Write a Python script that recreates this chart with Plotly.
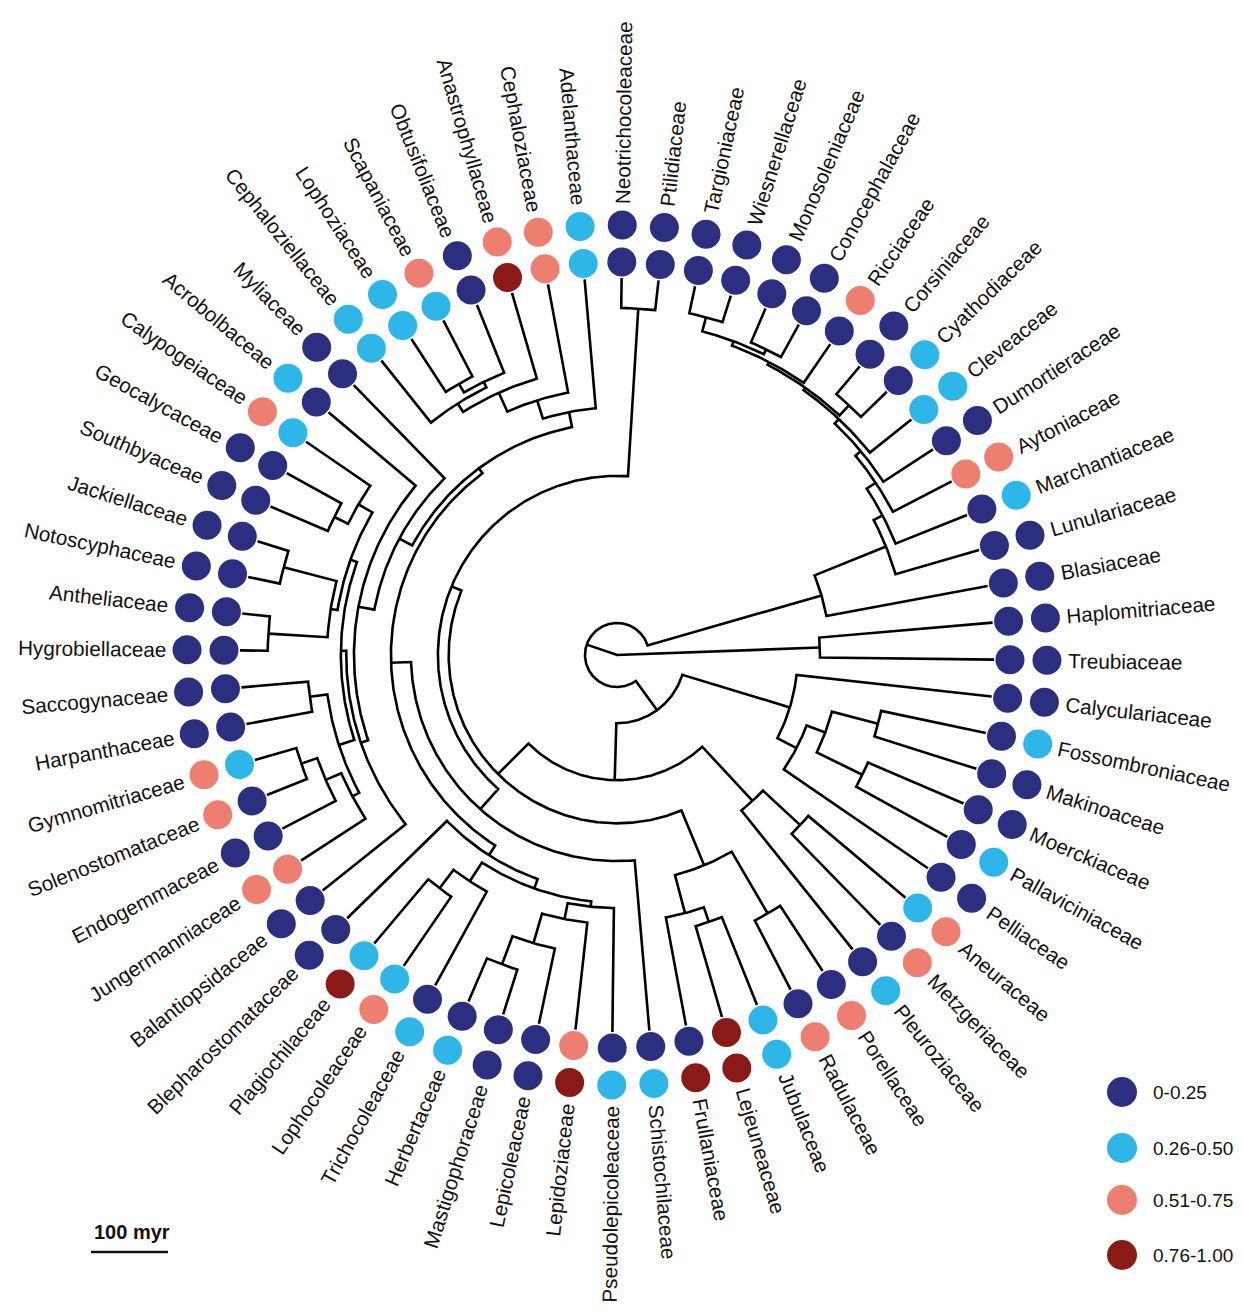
import math
import plotly.graph_objects as go

# ---------------------------------------------------------------------------
# Liverwort families, listed counter-clockwise starting at three o'clock
# ---------------------------------------------------------------------------
families = [
    "Treubiaceae", "Haplomitriaceae", "Blasiaceae", "Lunulariaceae", "Marchantiaceae",
    "Aytoniaceae", "Dumortieraceae", "Cleveaceae", "Cyathodiaceae", "Corsiniaceae",
    "Ricciaceae", "Conocephalaceae", "Monosoleniaceae", "Wiesnerellaceae", "Targioniaceae",
    "Ptilidiaceae", "Neotrichocoleaceae", "Adelanthaceae", "Cephaloziaceae", "Anastrophyllaceae",
    "Obtusifoliaceae", "Scapaniaceae", "Lophoziaceae", "Cephaloziellaceae", "Myliaceae",
    "Acrobolbaceae", "Calypogeiaceae", "Geocalycaceae", "Southbyaceae", "Jackiellaceae",
    "Notoscyphaceae", "Antheliaceae", "Hygrobiellaceae", "Saccogynaceae", "Harpanthaceae",
    "Gymnomitriaceae", "Solenostomataceae", "Endogemmaceae", "Jungermanniaceae", "Balantiopsidaceae",
    "Blepharostomataceae", "Plagiochilaceae", "Lophocoleaceae", "Trichocoleaceae", "Herbertaceae",
    "Mastigophoraceae", "Lepicoleaceae", "Lepidoziaceae", "Pseudolepicoleaceae", "Schistochilaceae",
    "Frullaniaceae", "Lejeuneaceae", "Jubulaceae", "Radulaceae", "Porellaceae",
    "Pleuroziaceae", "Metzgeriaceae", "Aneuraceae", "Pelliaceae", "Pallaviciniaceae",
    "Moerckiaceae", "Makinoaceae", "Fossombroniaceae", "Calyculariaceae",
]

# probability class per family (0: 0-0.25, 1: 0.26-0.50, 2: 0.51-0.75, 3: 0.76-1.00)
inner_class = [
    0, 0, 0, 0, 0, 2, 0, 1, 0, 0, 0, 0, 0, 0, 0, 0,
    0, 1, 2, 3, 0, 1, 1, 1, 0, 0, 1, 0, 0, 0, 0, 0,
    0, 0, 0, 1, 0, 0, 2, 0, 0, 1, 1, 0, 0, 0, 0, 2,
    0, 0, 0, 3, 1, 0, 0, 0, 0, 1, 0, 0, 0, 0, 0, 0,
]
outer_class = [
    0, 0, 0, 0, 1, 2, 0, 1, 1, 0, 2, 0, 0, 0, 0, 0,
    0, 1, 2, 2, 0, 2, 1, 1, 0, 1, 2, 0, 0, 0, 0, 0,
    0, 0, 0, 2, 2, 0, 2, 0, 0, 3, 2, 1, 1, 0, 0, 3,
    1, 1, 3, 3, 1, 2, 2, 1, 2, 2, 0, 1, 0, 0, 1, 0,
]

legend_labels = ["0-0.25", "0.26-0.50", "0.51-0.75", "0.76-1.00"]
class_colors = ["#2C2F7F", "#2EB6E8", "#EE7F70", "#8B1A17"]

# ---------------------------------------------------------------------------
# Dated family tree: (clade, crown age in myr, [two daughter lineages])
# ---------------------------------------------------------------------------
clades = [
    ("Liverworts", 490, ["Haplomitriopsida", "MJ"]),
    ("Haplomitriopsida", 226, ["Treubiaceae", "Haplomitriaceae"]),
    ("MJ", 448, ["Marchantiopsida", "Jungermanniopsida"]),
    ("Marchantiopsida", 213, ["Blasiaceae", "Marchantiidae"]),
    ("Marchantiidae", 113, ["Lunulariaceae", "Mc1"]),
    ("Mc1", 100, ["Marchantiaceae", "Mc2"]),
    ("Mc2", 86, ["Aytoniaceae", "Mc3"]),
    ("Mc3", 77, ["Dumortieraceae", "Mc4"]),
    ("Mc4", 69, ["Cleveaceae", "Mc5"]),
    ("Mc5", 65, ["Mc6", "Mc7"]),
    ("Mc6", 47, ["Cyathodiaceae", "Corsiniaceae"]),
    ("Mc7", 61, ["Ricciaceae", "Mc8"]),
    ("Mc8", 55, ["Mc9", "Mc10"]),
    ("Mc9", 48, ["Conocephalaceae", "Monosoleniaceae"]),
    ("Mc10", 36, ["Wiesnerellaceae", "Targioniaceae"]),
    ("Jungermanniopsida", 401, ["Jm1", "Pelliidae"]),
    ("Pelliidae", 255, ["Pe1", "Calyculariaceae"]),
    ("Pe1", 227, ["Pelliaceae", "Pe2"]),
    ("Pe2", 201, ["Pe3", "Pe4"]),
    ("Pe3", 135, ["Pallaviciniaceae", "Moerckiaceae"]),
    ("Pe4", 139, ["Makinoaceae", "Fossombroniaceae"]),
    ("Jm1", 327, ["Jungermanniidae", "Metzgeriidae"]),
    ("Metzgeriidae", 231, ["Pleuroziaceae", "Mz1"]),
    ("Mz1", 165, ["Metzgeriaceae", "Aneuraceae"]),
    ("Jungermanniidae", 271, ["Jg1", "Porellales"]),
    ("Porellales", 194, ["Po1", "Po2"]),
    ("Po1", 143, ["Frullaniaceae", "Po3"]),
    ("Po3", 123, ["Lejeuneaceae", "Jubulaceae"]),
    ("Po2", 101, ["Radulaceae", "Porellaceae"]),
    ("Jg1", 257, ["Ptilidiales", "Jungermanniales"]),
    ("Ptilidiales", 39, ["Ptilidiaceae", "Neotrichocoleaceae"]),
    ("Jungermanniales", 222, ["Ju1", "Schistochilaceae"]),
    ("Ju1", 196, ["Ju2", "Lophocoleineae"]),
    ("Ju2", 188, ["Cephaloziineae", "Jungermanniineae"]),
    ("Cephaloziineae", 168, ["Adelanthaceae", "Ce1"]),
    ("Ce1", 143, ["Cephaloziaceae", "Ce2"]),
    ("Ce2", 116, ["Anastrophyllaceae", "Ce3"]),
    ("Ce3", 103, ["Ce4", "Cephaloziellaceae"]),
    ("Ce4", 95, ["Obtusifoliaceae", "Ce5"]),
    ("Ce5", 82, ["Scapaniaceae", "Lophoziaceae"]),
    ("Jungermanniineae", 169, ["Myliaceae", "Jn1"]),
    ("Jn1", 148, ["Acrobolbaceae", "Jn2"]),
    ("Jn2", 138, ["Jn3", "Balantiopsidaceae"]),
    ("Jn3", 131, ["Jn4", "Jn5"]),
    ("Jn4", 122, ["Jn6", "Jn7"]),
    ("Jn6", 101, ["Calypogeiaceae", "Jn8"]),
    ("Jn8", 81, ["Geocalycaceae", "Southbyaceae"]),
    ("Jn7", 113, ["Jn9", "Jn10"]),
    ("Jn9", 42, ["Jackiellaceae", "Notoscyphaceae"]),
    ("Jn10", 36, ["Antheliaceae", "Hygrobiellaceae"]),
    ("Jn5", 110, ["Jn11", "Jn12"]),
    ("Jn11", 87, ["Saccogynaceae", "Harpanthaceae"]),
    ("Jn12", 100, ["Jn13", "Jungermanniaceae"]),
    ("Jn13", 78, ["Jn14", "Endogemmaceae"]),
    ("Jn14", 56, ["Gymnomitriaceae", "Solenostomataceae"]),
    ("Lophocoleineae", 181, ["Blepharostomataceae", "Lo1"]),
    ("Lo1", 168, ["Lo2", "Lo3"]),
    ("Lo2", 139, ["Lo4", "Trichocoleaceae"]),
    ("Lo4", 109, ["Plagiochilaceae", "Lophocoleaceae"]),
    ("Lo3", 161, ["Lo5", "Pseudolepicoleaceae"]),
    ("Lo5", 140, ["Lo6", "Lepidoziaceae"]),
    ("Lo6", 100, ["Lo7", "Lepicoleaceae"]),
    ("Lo7", 61, ["Herbertaceae", "Mastigophoraceae"]),
]

scale_bar_myr = 100

# ---------------------------------------------------------------------------
# Layout constants (pixels from the tree centre)
# ---------------------------------------------------------------------------
W, H = 1244, 1313
CX, CY = 617, 655
PX_PER_MYR = 0.77
R_TIPS = 377
R_INNER, R_OUTER, R_LABEL = 393, 430, 451
START_DEG = -0.7
STEP_DEG = 360.0 / len(families)
FONT = "Liberation Sans, Arial, Helvetica, sans-serif"
LABEL_SIZE = 20.7
LINE_W = 2.6

# Arial advance widths (1/1000 em) for label layout
ARIAL = dict(zip(
    "abcdefghijklmnopqrstuvwxyzABCDEFGHIJKLMNOPQRSTUVWXYZ0123456789.- ",
    [556, 556, 500, 556, 556, 278, 556, 556, 222, 222, 500, 222, 833, 556, 556, 556, 556, 333,
     500, 278, 556, 500, 722, 500, 500, 500,
     667, 667, 722, 722, 667, 611, 778, 722, 278, 500, 667, 556, 833, 722, 778, 667, 778, 722,
     667, 611, 722, 667, 944, 667, 667, 611] + [556] * 10 + [278, 333, 278]))


def text_width(s, size):
    return sum(ARIAL.get(c, 556) for c in s) / 1000.0 * size


kids_of = {name: kids for name, age, kids in clades}
age_of = {name: age for name, age, kids in clades}
angle_of = {f: START_DEG + i * STEP_DEG for i, f in enumerate(families)}


def radius(name):
    return R_TIPS - PX_PER_MYR * age_of.get(name, 0)


def node_angle(name):
    if name not in angle_of:
        ks = kids_of[name]
        angle_of[name] = sum(node_angle(k) for k in ks) / len(ks)
    return angle_of[name]


def polar(r, deg):
    t = math.radians(deg)
    return r * math.cos(t), r * math.sin(t)


# ---------------------------------------------------------------------------
# Tree branches: each node drawn as radial - arc - radial
# ---------------------------------------------------------------------------
bx, by = [], []
for name, age, kids in clades:
    r0 = radius(name)
    a1, a2 = node_angle(kids[0]), node_angle(kids[1])
    pts = [polar(radius(kids[0]), a1)]
    n = max(2, int(abs(a2 - a1) / 0.5) + 1)
    for i in range(n + 1):
        pts.append(polar(r0, a1 + (a2 - a1) * i / n))
    pts.append(polar(radius(kids[1]), a2))
    for x, y in pts:
        bx.append(x)
        by.append(y)
    bx.append(None)
    by.append(None)

fig = go.Figure()
fig.add_trace(go.Scatter(x=bx, y=by, mode="lines",
                         line=dict(color="black", width=LINE_W),
                         hoverinfo="skip", showlegend=False))

# ---------------------------------------------------------------------------
# Two rings of probability dots
# ---------------------------------------------------------------------------
for ring_r, classes in ((R_INNER, inner_class), (R_OUTER, outer_class)):
    xy = [polar(ring_r, angle_of[f]) for f in families]
    fig.add_trace(go.Scatter(
        x=[p[0] for p in xy], y=[p[1] for p in xy], mode="markers",
        marker=dict(size=29, color=[class_colors[c] for c in classes], line=dict(width=0)),
        text=families, hoverinfo="text", showlegend=False))

# ---------------------------------------------------------------------------
# Radial family labels
# ---------------------------------------------------------------------------
annotations = []
for f in families:
    th = angle_of[f]
    w = text_width(f, LABEL_SIZE)
    x, y = polar(R_LABEL + w / 2.0, th)
    if math.cos(math.radians(th)) > 0:
        rot = -(((th + 180) % 360) - 180)
    else:
        rot = 180 - th
    annotations.append(dict(x=x, y=y, xref="x", yref="y", text=f, showarrow=False,
                            textangle=rot, xanchor="center", yanchor="middle",
                            font=dict(family=FONT, size=LABEL_SIZE, color="#111111")))

# ---------------------------------------------------------------------------
# Legend (colour classes)
# ---------------------------------------------------------------------------
leg_x = 1122 - CX
leg_y = [CY - 1092, CY - 1148, CY - 1200, CY - 1255]
fig.add_trace(go.Scatter(x=[leg_x] * 4, y=leg_y, mode="markers",
                         marker=dict(size=30, color=class_colors, line=dict(width=0)),
                         hoverinfo="skip", showlegend=False))
for lab, yy in zip(legend_labels, leg_y):
    annotations.append(dict(x=leg_x + 29, y=yy, xref="x", yref="y", text=lab, showarrow=False,
                            xanchor="left", yanchor="middle",
                            font=dict(family=FONT, size=19, color="#111111")))

# ---------------------------------------------------------------------------
# Time scale bar
# ---------------------------------------------------------------------------
sb_x0, sb_y = 91 - CX, CY - 1252
fig.add_trace(go.Scatter(x=[sb_x0, sb_x0 + scale_bar_myr * PX_PER_MYR], y=[sb_y, sb_y],
                         mode="lines", line=dict(color="#111111", width=2.6),
                         hoverinfo="skip", showlegend=False))
annotations.append(dict(x=sb_x0 + 1, y=sb_y + 20, xref="x", yref="y",
                        text="<b>%d myr</b>" % scale_bar_myr, showarrow=False,
                        xanchor="left", yanchor="middle",
                        font=dict(family=FONT, size=20, color="#111111")))

fig.update_layout(
    width=W, height=H, autosize=False,
    margin=dict(l=0, r=0, t=0, b=0),
    paper_bgcolor="white", plot_bgcolor="white",
    xaxis=dict(range=[-CX, W - CX], visible=False, fixedrange=True),
    yaxis=dict(range=[CY - H, CY], visible=False, fixedrange=True),
    annotations=annotations,
    showlegend=False,
)

fig.write_html("out.html", config={"displayModeBar": False})
